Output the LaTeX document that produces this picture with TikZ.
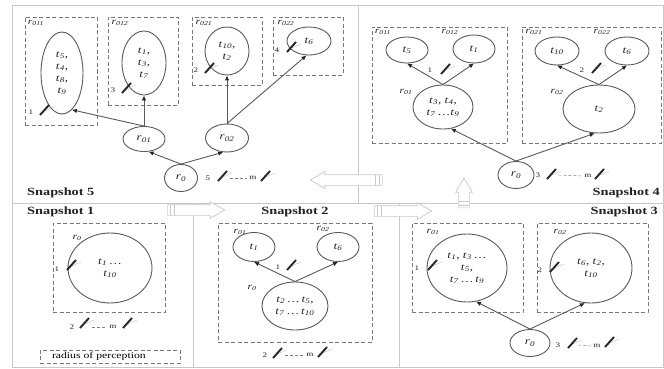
\documentclass[tikz,border=0pt]{standalone}
\usepackage{fontspec}
\setmainfont{Liberation Serif}[FakeStretch=1.3]
\usetikzlibrary{arrows,arrows.meta,shapes,positioning,calc}
\definecolor{linegray}{RGB}{90,90,90}
\definecolor{boxgray}{RGB}{120,120,120}
\definecolor{framegray}{RGB}{200,200,200}
\definecolor{textgray}{RGB}{35,35,35}
\tikzstyle{robot} = [ellipse, draw=linegray, line width=0.9pt, inner sep=0pt, align=center, text=textgray, font=\fontsize{10}{12}\selectfont]
\tikzstyle{region} = [rectangle, draw=boxgray, dash pattern=on 4pt off 2.5pt, line width=0.8pt, inner sep=0pt]
\tikzstyle{arrow} = [line width=0.9pt,->,>={Latex[length=5pt,width=4.5pt,color=black!85]},color=linegray]
\tikzstyle{frame} = [draw=framegray, line width=0.7pt]
\tikzstyle{title} = [font=\bfseries\fontsize{11}{12}\selectfont, text=textgray, inner sep=0pt]
\tikzstyle{rlabel} = [font=\fontsize{9}{10}\selectfont, text=textgray, inner sep=0pt]
\tikzstyle{num} = [font=\fontsize{7}{8}\selectfont, text=textgray, inner sep=0pt]
\tikzstyle{more} = [draw=gray, dash pattern=on 3pt off 2pt, line width=0.5pt]
\tikzstyle{flow} = [single arrow, draw=framegray, fill=white, line width=0.7pt, inner xsep=0pt, inner ysep=5pt, single arrow head extend=3pt, single arrow tip angle=60]
\tikzset{sensor/.pic={
  \draw[gray!50, line width=0.4pt] (-3,2) -- (9,-3);
  \draw[black!85, line width=1.9pt] (-5,5) -- (4,-5);
}}
\newcommand{\tk}[1]{\textit{t}\textsubscript{\textit{#1}}}
\newcommand{\rb}[1]{\textit{r}\textsubscript{\textit{#1}}}
\newcommand{\tailstripes}[1]{%
  \foreach \d in {3pt,7pt} {
    \coordinate (tmp) at ($(#1.tail)!\d!(#1.tip)$);
    \draw[frame] ($(tmp)!5pt!90:(#1.tip)$) -- ($(tmp)!5pt!-90:(#1.tip)$);
  }}

\begin{document}
\begin{tikzpicture}[x=1pt, y=-1pt]
\useasboundingbox[fill=white] (0,0) rectangle (664,369);

% panels
\draw[frame] (12,5) rectangle (663,367);
\draw[frame] (12,203) -- (663,203);
\draw[frame] (358,5) -- (358,203);
\draw[frame] (193,203) -- (193,367);
\draw[frame] (399,203) -- (399,367);

% moves between snapshots
\node (a12) [flow, minimum height=57] at (191.5,210) {};
\node (a23) [flow, minimum height=57] at (398.5,211) {};
\node (a34) [flow, minimum height=30, rotate=90] at (464,197.5) {};
\node (a45) [flow, minimum height=72, rotate=180] at (351,180) {};
\tailstripes{a12}
\tailstripes{a23}
\tailstripes{a34}
\tailstripes{a45}

% Snapshot 5
\node (t5) [title, anchor=west] at (27,193) {Snapshot 5};
\node (s5b011) [region, minimum width=72, minimum height=108] at (61,71) {};
\node (s5b012) [region, minimum width=70, minimum height=88] at (143,61) {};
\node (s5b021) [region, minimum width=70, minimum height=68] at (227,51) {};
\node (s5b022) [region, minimum width=70, minimum height=58] at (308,46) {};
\node (s5l011) [rlabel] at (36,23) {\rb{011}};
\node (s5l012) [rlabel] at (120,23) {\rb{012}};
\node (s5l021) [rlabel] at (204,23) {\rb{021}};
\node (s5l022) [rlabel] at (286,23) {\rb{022}};
\node (s5e011) [robot, minimum width=42, minimum height=82] at (62,73) {\tk{5},\\\tk{4},\\\tk{8},\\\tk{9}};
\node (s5e012) [robot, minimum width=44, minimum height=64] at (144,63) {\tk{1},\\\tk{3},\\\tk{7}};
\node (s5e021) [robot, minimum width=44, minimum height=48] at (227,51) {\tk{10},\\\tk{2}};
\node (s5e022) [robot, minimum width=44, minimum height=28] at (309,41) {\tk{6}};
\node (s5r01) [robot, minimum width=42, minimum height=25] at (144,139) {\rb{01}};
\node (s5r02) [robot, minimum width=43, minimum height=28] at (227,138) {\rb{02}};
\node (s5r0) [robot, minimum width=33, minimum height=27] at (181,178) {\rb{0}};
\draw[arrow] (s5r0.north) -- (s5r01.-70);
\draw[arrow] (s5r0.north) -- (s5r02.-105);
\draw[arrow] (s5r01.north) -- (s5e011.-75);
\draw[arrow] (s5r01.north) -- (s5e012.south);
\draw[arrow] (s5r02.north) -- (s5e021.south);
\draw[arrow] (s5r02.north) -- (s5e022.-100);
\node (s5n1) [num] at (31,112) {1};
\node (s5n3) [num] at (113,90) {3};
\node (s5n2) [num] at (196,70) {2};
\node (s5n4) [num] at (277,50) {4};
\node (s5n5) [num] at (208,178) {5};
\node (s5nm) [num] at (253,178) {m};
\pic (s5s1) at (45,110) {sensor};
\pic (s5s3) at (127,88) {sensor};
\pic (s5s2) at (210,68) {sensor};
\pic (s5s4) at (292,47) {sensor};
\pic (s5s5) at (223,176) {sensor};
\pic (s5sm) at (266,176) {sensor};
\draw[more] ([xshift=20pt]s5n5.east) -- ([xshift=-2pt]s5nm.west);

% Snapshot 4
\node (t4) [title, anchor=east] at (660,193) {Snapshot 4};
\node (s4b01) [region, minimum width=135, minimum height=116] at (439.5,85) {};
\node (s4b02) [region, minimum width=139, minimum height=116] at (591.5,85) {};
\node (s4l011) [rlabel] at (383,32) {\rb{011}};
\node (s4l012) [rlabel] at (450,32) {\rb{012}};
\node (s4l01) [rlabel] at (406,92) {\rb{01}};
\node (s4l021) [rlabel] at (534,32) {\rb{021}};
\node (s4l022) [rlabel] at (602,32) {\rb{022}};
\node (s4l02) [rlabel] at (557,92) {\rb{02}};
\node (s4t5) [robot, minimum width=42, minimum height=26] at (407,50) {\tk{5}};
\node (s4t1) [robot, minimum width=42, minimum height=28] at (474,49) {\tk{1}};
\node (s4r01) [robot, minimum width=60, minimum height=44] at (443,107) {\tk{3}, \tk{4},\\\tk{7}\,\ldots\tk{9}};
\node (s4t10) [robot, minimum width=44, minimum height=28] at (557,51) {\tk{10}};
\node (s4t6) [robot, minimum width=44, minimum height=28] at (627,51) {\tk{6}};
\node (s4r02) [robot, minimum width=72, minimum height=48] at (599,109) {\tk{2}};
\node (s4r0) [robot, minimum width=36, minimum height=27] at (516,175) {\rb{0}};
\draw[arrow] (s4r01.north) -- (s4t5.south);
\draw[arrow] (s4r01.north) -- (s4t1.south);
\draw[arrow] (s4r02.north) -- (s4t10.south);
\draw[arrow] (s4r02.north) -- (s4t6.south);
\draw[arrow] (s4r0.north) -- (s4r01.-70);
\draw[arrow] (s4r0.north) -- (s4r02.-100);
\node (s4n1) [num] at (430,70) {1};
\node (s4n2) [num] at (582,70) {2};
\node (s4n3) [num] at (538,175) {3};
\node (s4nm) [num] at (588,176) {m};
\pic (s4s1) at (446,69) {sensor};
\pic (s4s2) at (597,68) {sensor};
\pic (s4s3) at (552,174) {sensor};
\pic (s4sm) at (600,174) {sensor};
\draw[more] ([xshift=18pt]s4n3.east) -- ([xshift=-2pt]s4nm.west);

% Snapshot 1
\node (t1) [title, anchor=west] at (27,212) {Snapshot 1};
\node (s1b0) [region, minimum width=112, minimum height=89] at (109,267.5) {};
\node (s1l0) [rlabel] at (77,238) {\rb{0}};
\node (s1r0) [robot, minimum width=84, minimum height=70] at (110,268) {\tk{1}\,\ldots\\\tk{10}};
\node (s1n1) [num] at (57,269) {1};
\node (s1n2) [num] at (72,327) {2};
\node (s1nm) [num] at (113,327) {m};
\pic (s1s1) at (72,265) {sensor};
\pic (s1s2) at (85,323) {sensor};
\pic (s1sm) at (128,323) {sensor};
\draw[more] ([xshift=18pt]s1n2.east) -- ([xshift=-2pt]s1nm.west);
\node (rop) [region, text width=116pt, inner xsep=12pt, minimum height=13, align=left, font=\fontsize{9}{10}\selectfont] at (110,356.5) {radius of perception};

% Snapshot 2
\node (t2) [title] at (295,212) {Snapshot 2};
\node (s2b0) [region, minimum width=154, minimum height=119] at (295,282.5) {};
\node (s2l01) [rlabel] at (240,232) {\rb{01}};
\node (s2l02) [rlabel] at (323,229) {\rb{02}};
\node (s2l0) [rlabel] at (252,288) {\rb{0}};
\node (s2t1) [robot, minimum width=42, minimum height=29] at (254,247) {\tk{1}};
\node (s2t6) [robot, minimum width=42, minimum height=29] at (338,247) {\tk{6}};
\node (s2r0) [robot, minimum width=66, minimum height=48] at (295,306) {\tk{2}\,\ldots\,\tk{5},\\\tk{7}\,\ldots\,\tk{10}};
\draw[arrow] (s2r0.north) -- (s2t1.south);
\draw[arrow] (s2r0.north) -- (s2t6.south);
\node (s2n1) [num] at (278,267) {1};
\node (s2n2) [num] at (265,355) {2};
\node (s2nm) [num] at (310,355) {m};
\pic (s2s1) at (292,265) {sensor};
\pic (s2s2) at (278,353) {sensor};
\pic (s2sm) at (323,352) {sensor};
\draw[more] ([xshift=18pt]s2n2.east) -- ([xshift=-2pt]s2nm.west);

% Snapshot 3
\node (t3) [title, anchor=east] at (658,212) {Snapshot 3};
\node (s3b01) [region, minimum width=111, minimum height=89] at (467.5,267.5) {};
\node (s3b02) [region, minimum width=111, minimum height=89] at (592.5,267.5) {};
\node (s3l01) [rlabel] at (433,232) {\rb{01}};
\node (s3l02) [rlabel] at (560,232) {\rb{02}};
\node (s3r01) [robot, minimum width=80, minimum height=68] at (467,268) {\tk{1}, \tk{3}\,\ldots\\\tk{5},\\\tk{7}\,\ldots\,\tk{9}};
\node (s3r02) [robot, minimum width=82, minimum height=70] at (591,268) {\tk{6}, \tk{2},\\\tk{10}};
\node (s3r0) [robot, minimum width=40, minimum height=27] at (530,343) {\rb{0}};
\draw[arrow] (s3r0.north) -- (s3r01.-75);
\draw[arrow] (s3r0.north) -- (s3r02.-100);
\node (s3n1) [num] at (417,268) {1};
\node (s3n2) [num] at (540,270) {2};
\node (s3n3) [num] at (558,345) {3};
\node (s3nm) [num] at (597,346) {m};
\pic (s3s1) at (433,265) {sensor};
\pic (s3s2) at (555,267) {sensor};
\pic (s3s3) at (573,343) {sensor};
\pic (s3sm) at (610,342) {sensor};
\draw[more] ([xshift=18pt]s3n3.east) -- ([xshift=-2pt]s3nm.west);
\end{tikzpicture}
\end{document}
